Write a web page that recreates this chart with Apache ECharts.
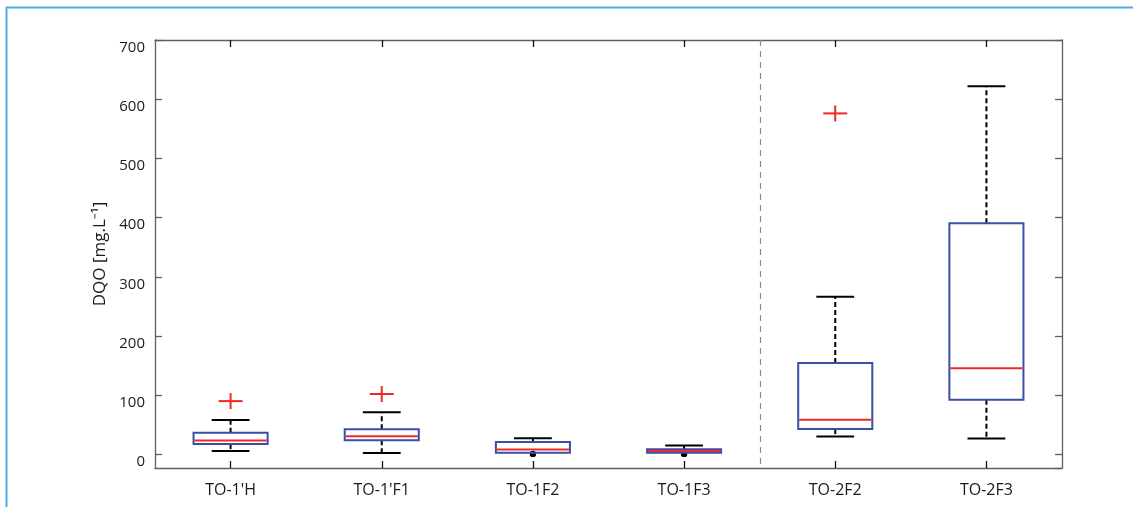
<!DOCTYPE html>
<html>
<head>
<meta charset="utf-8">
<script src="https://cdn.jsdelivr.net/npm/echarts@6/dist/echarts.min.js"></script>
<style>
  html, body { margin: 0; padding: 0; background: #fff; }
  #chart { width: 1133px; height: 507px; }
</style>
</head>
<body>
<div id="chart"></div>
<script>
// Sampling points
const categories = ["TO-1'H", "TO-1'F1", "TO-1F2", "TO-1F3", "TO-2F2", "TO-2F3"];

// Box statistics of DQO per point [mg/L]
const lowerWhisker = [5.6, 2.2, 0, 0, 30.4, 27];
const q1           = [17.4, 23.7, 2.7, 2.7, 42.7, 92.2];
const median       = [23.6, 30.6, 8.4, 5.6, 58.5, 145.3];
const q3           = [36.6, 42.4, 21.0, 8.6, 154.2, 390.3];
const upperWhisker = [58, 71, 27.3, 15.2, 266.3, 622];

// Outliers: [category index, value]
const outliers = [[0, 90], [1, 102], [4, 576]];

// Y-axis range and tick labels
const yMin = -23;
const yMax = 700;
const yTickLabels = ['0', '100', '200', '300', '400', '500', '600', '700'];

const FONT = 'Open Sans';
const AXIS_GREY = '#5f5f5f';
const BOX_BLUE = '#3a4fa6';
const MEDIAN_RED = '#f0282a';

const boxData = categories.map((c, i) =>
  [i, lowerWhisker[i], q1[i], median[i], q3[i], upperWhisker[i]]);

function renderBox(params, api) {
  const i = api.value(0);
  const band = api.size([1, 0])[0];
  const halfBox = band * 0.245;
  const halfCap = band * 0.125;
  const x = api.coord([i, 0])[0];
  const yLo = api.coord([i, api.value(1)])[1];
  const yQ1 = api.coord([i, api.value(2)])[1];
  const yMed = api.coord([i, api.value(3)])[1];
  const yQ3 = api.coord([i, api.value(4)])[1];
  const yHi = api.coord([i, api.value(5)])[1];
  const whisker = { stroke: '#000', lineWidth: 2, lineDash: [5, 3] };
  const cap = { stroke: '#000', lineWidth: 2 };
  const children = [
    { type: 'line', shape: { x1: x, y1: yQ3, x2: x, y2: yHi }, style: whisker },
    { type: 'line', shape: { x1: x - halfCap, y1: yHi, x2: x + halfCap, y2: yHi }, style: cap }
  ];
  if (yLo - yQ1 > 4) {
    children.push(
      { type: 'line', shape: { x1: x, y1: yQ1, x2: x, y2: yLo }, style: whisker },
      { type: 'line', shape: { x1: x - halfCap, y1: yLo, x2: x + halfCap, y2: yLo }, style: cap }
    );
  } else {
    // lower extreme squeezed against the box: drawn as a small dot
    children.push({ type: 'circle', shape: { cx: x, cy: yLo - 0.5, r: 3.2 }, style: { fill: '#000' } });
  }
  children.push(
    { type: 'rect', shape: { x: x - halfBox, y: yQ3, width: halfBox * 2, height: yQ1 - yQ3 },
      style: { fill: 'rgba(255,255,255,0)', stroke: BOX_BLUE, lineWidth: 2 } },
    { type: 'line', shape: { x1: x - halfBox + 1, y1: yMed, x2: x + halfBox - 1, y2: yMed },
      style: { stroke: MEDIAN_RED, lineWidth: 2 } }
  );
  return { type: 'group', children };
}

function renderOutlier(params, api) {
  const p = api.coord([api.value(0), api.value(1)]);
  const hw = 12, hh = 8;
  const s = { stroke: MEDIAN_RED, lineWidth: 2 };
  return {
    type: 'group',
    children: [
      { type: 'line', shape: { x1: p[0] - hw, y1: p[1], x2: p[0] + hw, y2: p[1] }, style: s },
      { type: 'line', shape: { x1: p[0], y1: p[1] - hh, x2: p[0], y2: p[1] + hh }, style: s }
    ]
  };
}

// Dashed divider between the TO-1 and TO-2 groups
function renderDivider(params, api) {
  const a = api.coord([api.value(0), 0])[0];
  const b = api.coord([api.value(1), 0])[0];
  const cs = params.coordSys;
  const x = Math.round((a + b) / 2) + 0.5;
  return {
    type: 'line',
    shape: { x1: x, y1: cs.y, x2: x, y2: cs.y + cs.height },
    style: { stroke: '#8a8a8a', lineWidth: 1.2, lineDash: [6, 5] }
  };
}

const chart = echarts.init(document.getElementById('chart'));

const catAxisBase = {
  type: 'category',
  data: categories,
  boundaryGap: true,
  axisLine: { show: true, onZero: false, lineStyle: { color: AXIS_GREY, width: 1.3 } },
  axisTick: { show: true, inside: true, alignWithLabel: true, length: 7,
              lineStyle: { color: '#111', width: 1.3 } },
  splitLine: { show: false }
};

const valAxisBase = {
  type: 'value',
  min: yMin,
  max: yMax,
  splitNumber: 7,
  axisLine: { show: true, onZero: false, lineStyle: { color: AXIS_GREY, width: 1.3 } },
  axisTick: { show: true, inside: true, length: 7, lineStyle: { color: AXIS_GREY, width: 1.3 } },
  splitLine: { show: false }
};

chart.setOption({
  animation: false,
  backgroundColor: '#fff',
  textStyle: { fontFamily: FONT },
  grid: { left: 155, right: 71, top: 40, bottom: 39, containLabel: false },
  xAxis: [
    Object.assign({}, catAxisBase, {
      position: 'bottom',
      axisLabel: { color: '#1a1a1a', fontSize: 16, fontFamily: FONT, margin: 14 }
    }),
    Object.assign({}, catAxisBase, {
      position: 'top',
      axisLabel: { show: false }
    })
  ],
  yAxis: [
    Object.assign({}, valAxisBase, {
      position: 'left',
      name: 'DQO [mg.L\u207B\u00B9]',
      nameLocation: 'middle',
      nameGap: 46,
      nameRotate: 90,
      nameTextStyle: { color: '#1a1a1a', fontSize: 17, fontFamily: FONT },
      axisLabel: {
        color: '#1a1a1a', fontSize: 15, fontFamily: FONT, margin: 10,
        verticalAlign: 'top',
        showMinLabel: false,
        formatter: function (v) {
          const idx = Math.round(v / 100);
          return (Math.abs(v - idx * 100) < 1e-6 && idx >= 0) ? yTickLabels[idx] : '';
        }
      }
    }),
    Object.assign({}, valAxisBase, {
      position: 'right',
      axisLabel: { show: false }
    })
  ],
  series: [
    {
      type: 'custom',
      name: 'divider',
      xAxisIndex: 0, yAxisIndex: 0,
      data: [[3, 4]],
      renderItem: renderDivider,
      silent: true,
      z: 1
    },
    {
      type: 'custom',
      name: 'DQO',
      xAxisIndex: 0, yAxisIndex: 0,
      data: boxData,
      encode: { x: 0, y: [1, 2, 3, 4, 5] },
      renderItem: renderBox,
      z: 3
    },
    {
      type: 'custom',
      name: 'outliers',
      xAxisIndex: 0, yAxisIndex: 0,
      data: outliers,
      encode: { x: 0, y: 1 },
      renderItem: renderOutlier,
      z: 4
    }
  ],
  graphic: [
    { type: 'line', shape: { x1: 6, y1: 7.5, x2: 1133, y2: 7.5 },
      style: { stroke: '#4aaee3', lineWidth: 2 } },
    { type: 'line', shape: { x1: 6.5, y1: 7, x2: 6.5, y2: 507 },
      style: { stroke: '#4aaee3', lineWidth: 2 } }
  ]
});
</script>
</body>
</html>
